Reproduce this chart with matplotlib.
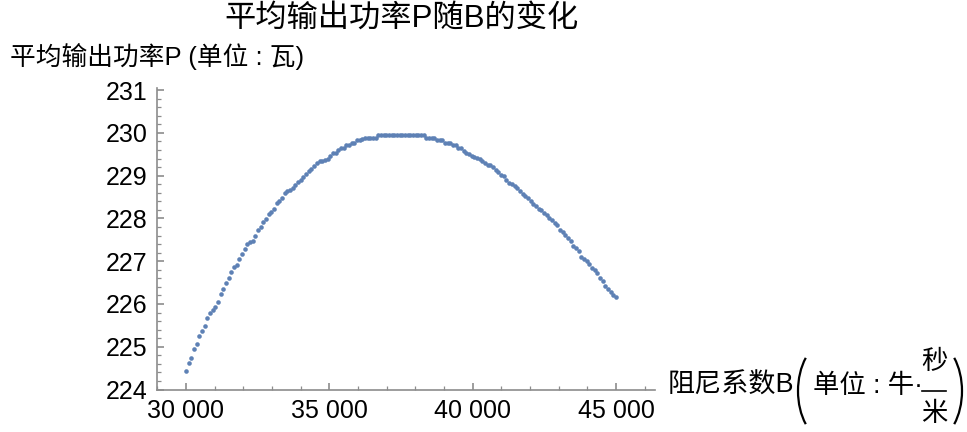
import numpy as np
import matplotlib.pyplot as plt
from matplotlib.ticker import MultipleLocator, FuncFormatter
from matplotlib.lines import Line2D
from matplotlib.patches import Arc
from matplotlib.transforms import IdentityTransform

plt.rcParams['font.family'] = ['Liberation Sans', 'Noto Sans CJK SC']

# average output power P (W), B from 30000 to 45000
power = [
    224.43, 224.62, 224.74, 224.94, 225.06, 225.24, 225.37, 225.49, 225.67, 225.80,
    225.86, 225.92, 226.05, 226.24, 226.36, 226.48, 226.61, 226.74, 226.86, 226.91,
    227.04, 227.16, 227.29, 227.41, 227.45, 227.48, 227.60, 227.72, 227.79, 227.92,
    227.98, 228.10, 228.16, 228.22, 228.35, 228.41, 228.47, 228.60, 228.63, 228.66,
    228.71, 228.78, 228.85, 228.91, 228.97, 229.03, 229.10, 229.16, 229.22, 229.29,
    229.34, 229.34, 229.37, 229.40, 229.46, 229.52, 229.52, 229.59, 229.64, 229.64,
    229.71, 229.71, 229.77, 229.77, 229.83, 229.83, 229.86, 229.89, 229.89, 229.89,
    229.89, 229.89, 229.95, 229.95, 229.95, 229.95, 229.95, 229.95, 229.95, 229.95,
    229.95, 229.95, 229.95, 229.95, 229.95, 229.95, 229.95, 229.95, 229.95, 229.95,
    229.89, 229.89, 229.89, 229.89, 229.83, 229.83, 229.83, 229.77, 229.77, 229.77,
    229.71, 229.71, 229.64, 229.64, 229.57, 229.52, 229.50, 229.47, 229.44, 229.41,
    229.38, 229.34, 229.30, 229.26, 229.24, 229.20, 229.14, 229.08, 229.02, 229.00,
    228.90, 228.83, 228.80, 228.77, 228.71, 228.64, 228.58, 228.52, 228.47, 228.40,
    228.34, 228.28, 228.22, 228.19, 228.13, 228.07, 228.02, 227.96, 227.90, 227.85,
    227.73, 227.68, 227.61, 227.54, 227.48, 227.35, 227.30, 227.23, 227.10, 227.04,
    227.00, 226.93, 226.85, 226.79, 226.73, 226.60, 226.54, 226.42, 226.35, 226.29,
    226.22, 226.17,
]
b_coef = np.linspace(30000, 45000, len(power))

W, H = 967, 432


def px(x, y):
    # pixel position (from top left) -> figure fraction
    return x / W, 1 - y / H


fig = plt.figure(figsize=(W / 100, H / 100), dpi=100)
ax = fig.add_axes([157 / W, 1 - 389.5 / H, (655 - 157) / W, (389.5 - 88) / H])

ax.plot(b_coef, power, 'o', ms=3.3, color='#5E81B5', mec='none')

ax.set_xlim(28990, 46360)
ax.set_ylim(224, 231.05)

axis_col = '#8c8c8c'
for s in ['top', 'right']:
    ax.spines[s].set_visible(False)
for s in ['left', 'bottom']:
    ax.spines[s].set_color(axis_col)
    ax.spines[s].set_linewidth(1.2)

ax.xaxis.set_major_locator(MultipleLocator(5000))
ax.xaxis.set_minor_locator(MultipleLocator(1000))
ax.yaxis.set_major_locator(MultipleLocator(1))
ax.yaxis.set_minor_locator(MultipleLocator(0.2))
ax.xaxis.set_major_formatter(FuncFormatter(lambda v, p: f"{int(v):,}".replace(",", " ")))
ax.yaxis.set_major_formatter(FuncFormatter(lambda v, p: f"{int(round(v))}"))
ax.tick_params(which='major', direction='in', length=5, width=1.2, color=axis_col,
               labelsize=18, pad=7)
ax.tick_params(which='minor', direction='in', length=3, width=0.9, color=axis_col)

# title and y label
fig.text(*px(401, 19), "平均输出功率P随B的变化", ha='center', va='center', fontsize=22.5)
fig.text(*px(10, 56), "平均输出功率P (单位 : 瓦)", ha='left', va='center', fontsize=18.5)

# x label with big parentheses and a fraction
fig.text(*px(668, 386), "阻尼系数B", ha='left', va='center', fontsize=19.5)
fig.text(*px(813, 386), "单位 : 牛·", ha='left', va='center', fontsize=19)
fig.text(*px(934, 362), "秒", ha='center', va='center', fontsize=19)
fig.text(*px(934, 414), "米", ha='center', va='center', fontsize=19)
fig.add_artist(Line2D([922, 946], [H - 391, H - 391], color='black', lw=1.2,
                      transform=IdentityTransform()))
fig.add_artist(Arc((829, H - 391), 62, 100, theta1=125, theta2=235, color='black',
                   lw=1.6, transform=IdentityTransform()))
fig.add_artist(Arc((931, H - 391), 62, 100, theta1=-55, theta2=55, color='black',
                   lw=1.6, transform=IdentityTransform()))

fig.savefig("out.png", dpi=100)
